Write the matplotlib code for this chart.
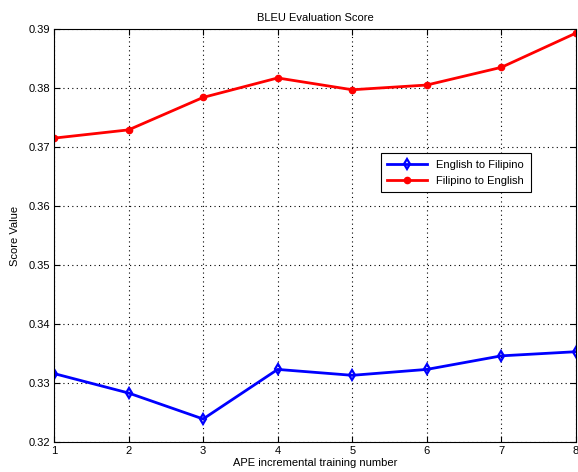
import matplotlib
matplotlib.use('Agg')
from matplotlib import pyplot as plt

# APE training rounds and BLEU scores
rounds = [1, 2, 3, 4, 5, 6, 7, 8]
en_to_fil = [0.3316, 0.3283, 0.3239, 0.3323, 0.3313, 0.3323, 0.3346, 0.3353]
fil_to_en = [0.3715, 0.3729, 0.3784, 0.3817, 0.3797, 0.3805, 0.3835, 0.3893]
yticks = [0.32, 0.33, 0.34, 0.35, 0.36, 0.37, 0.38, 0.39]

plt.rcParams['font.family'] = ['Liberation Sans', 'DejaVu Sans']

fig = plt.figure(figsize=(5.78, 4.72), dpi=100)
ax = fig.add_axes([0.0934, 0.0636, 0.903, 0.875])

ax.plot(rounds, en_to_fil, c='#0000ff', lw=2.0, marker='d', ms=5.5,
        mfc='none', mew=1.6, label='English to Filipino')
ax.plot(rounds, fil_to_en, c='#ff0000', lw=2.0, marker='o', ms=4.5,
        label='Filipino to English')

ax.set_xlim(1, 8)
ax.set_ylim(0.32, 0.39)
ax.set_xticks(rounds)
ax.set_yticks(yticks)
ax.set_yticklabels(['%.2f' % v for v in yticks])
ax.grid(True, color='black', linestyle=(0, (1, 3)), linewidth=0.8)
ax.tick_params(axis='both', direction='in', top=True, right=True,
               labelsize=8, length=4, pad=3)
for s in ax.spines.values():
    s.set_linewidth(0.8)

ax.set_title('BLEU Evaluation Score', fontsize=8, pad=6)
ax.set_xlabel('APE incremental training number', fontsize=8, labelpad=1)
ax.set_ylabel('Score Value', fontsize=8, labelpad=6)

leg = ax.legend(loc='upper left', bbox_to_anchor=(0.626, 0.70), fontsize=8,
                fancybox=False, edgecolor='black', framealpha=1,
                borderpad=0.6, handlelength=3.6, labelspacing=0.55,
                borderaxespad=0)
leg.get_frame().set_linewidth(0.8)

fig.savefig('out.png', dpi=100)
